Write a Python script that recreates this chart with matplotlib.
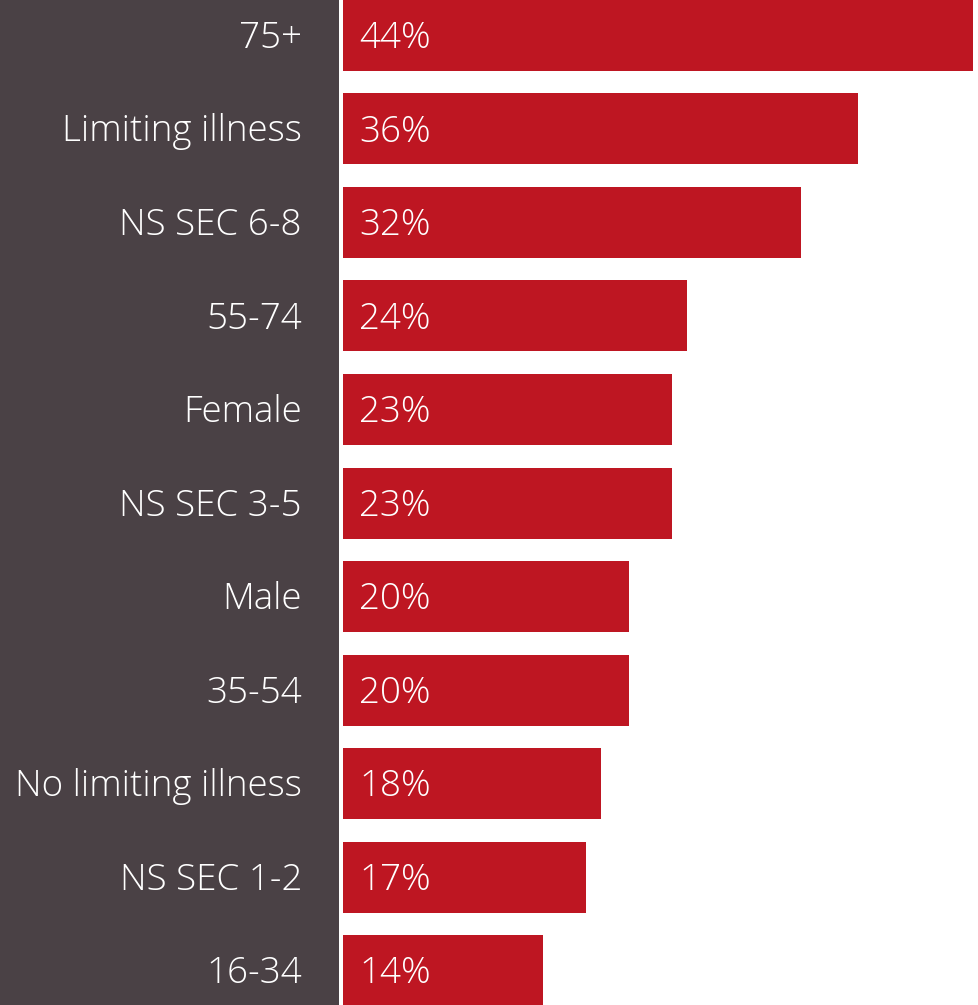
import matplotlib
matplotlib.use("Agg")
import matplotlib.pyplot as plt

# share of each group, top to bottom
groups = ["75+", "Limiting illness", "NS SEC 6-8", "55-74", "Female", "NS SEC 3-5",
          "Male", "35-54", "No limiting illness", "NS SEC 1-2", "16-34"]
values = [44, 36, 32, 24, 23, 23, 20, 20, 18, 17, 14]

W, H = 979, 1005
fig = plt.figure(figsize=(W / 100, H / 100), dpi=100)
fig.patch.set_facecolor("white")

# dark label panel on the left
bg = fig.add_axes([0, 0, 339 / W, 1], zorder=0)
bg.set_facecolor("#4a4145")
bg.set_xticks([])
bg.set_yticks([])
for s in bg.spines.values():
    s.set_visible(False)

ax = fig.add_axes([343 / W, 0, (973 - 343) / W, 1], zorder=1)
ax.set_facecolor("none")
pitch = 93.5
ypos = list(range(len(values)))
ax.barh(ypos, values, height=71 / pitch, color="#be1622", edgecolor="none")
ax.set_xlim(0, 44)
ax.set_ylim((H - 35.5) / pitch, -35.5 / pitch)
ax.axis("off")

font = dict(family=["Open Sans", "DejaVu Sans"], fontweight="light", color="white", fontsize=26.5)
dy = 3 / pitch
for y, g, v in zip(ypos, groups, values):
    ax.text(-(343 - 302) / (973 - 343) * 44, y + dy, g, ha="right", va="center", clip_on=False, **font)
    ax.text(16 / (973 - 343) * 44, y + dy, f"{v}%", ha="left", va="center", clip_on=False, **font)

fig.savefig("out.png", dpi=100, facecolor="white")
